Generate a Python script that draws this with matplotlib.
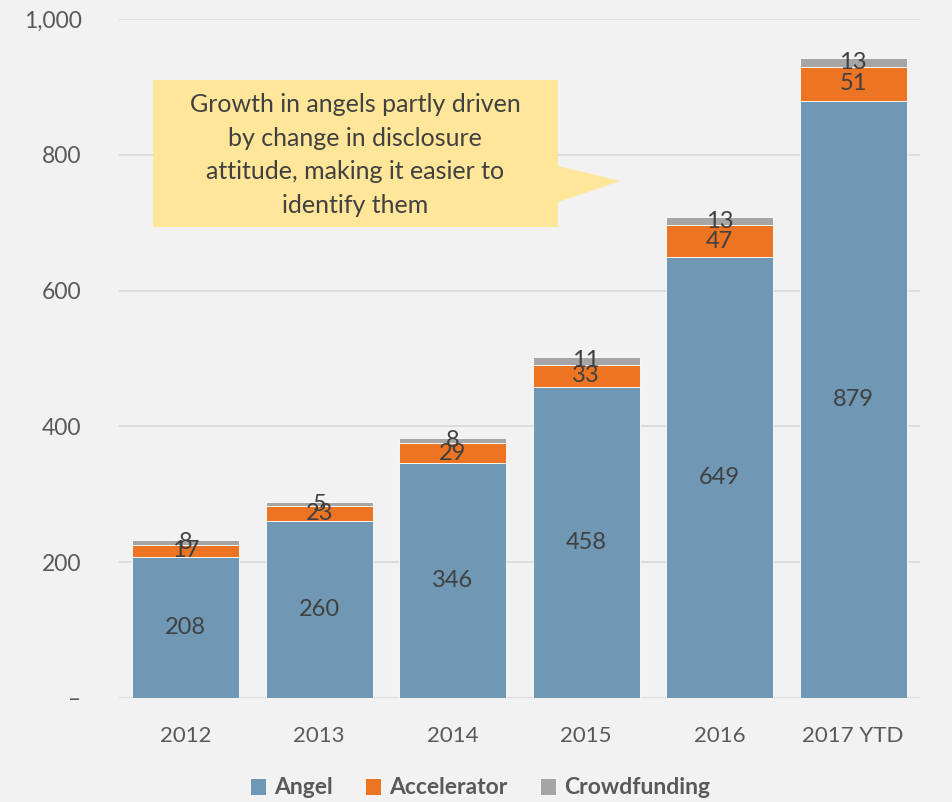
import matplotlib
matplotlib.use("Agg")
import matplotlib.pyplot as plt
from matplotlib.patches import Polygon
import numpy as np

categories = ["2012", "2013", "2014", "2015", "2016", "2017 YTD"]
angel = [208, 260, 346, 458, 649, 879]
accelerator = [17, 23, 29, 33, 47, 51]
crowdfunding = [8, 5, 8, 11, 13, 13]
series_names = ["Angel", "Accelerator", "Crowdfunding"]
colors = ["#7098B5", "#ED7422", "#A5A5A5"]
y_ticks = [0, 200, 400, 600, 800, 1000]
y_tick_labels = ["\u2013", "200", "400", "600", "800", "1,000"]
callout_text = ("Growth in angels partly driven\nby change in disclosure\n"
                "attitude, making it easier to\nidentify them")

plt.rcParams['font.family'] = ['Lato', 'DejaVu Sans']
BG = "#F2F2F2"
W, H = 953, 802
fig = plt.figure(figsize=(W / 100, H / 100), dpi=100, facecolor=BG)
ax = fig.add_axes([119 / W, 1 - 698 / H, (920 - 119) / W, (698 - 19) / H])
ax.set_facecolor(BG)

x = np.arange(len(categories))
bottom = np.zeros(len(categories))
for name, vals, col in zip(series_names, [angel, accelerator, crowdfunding], colors):
    vals = np.array(vals, dtype=float)
    ax.bar(x, vals, 0.8, bottom=bottom, color=col, label=name,
           edgecolor="white", linewidth=0.6, zorder=3)
    for xi, b, v in zip(x, bottom, vals):
        ax.text(xi, b + v / 2, f"{int(v)}", ha="center", va="center",
                fontsize=17, color="#404040", zorder=5)
    bottom += vals

ax.set_xlim(-0.5, len(categories) - 0.5)
ax.set_ylim(0, 1000)
ax.set_yticks(y_ticks)
ax.set_yticklabels(y_tick_labels)
ax.set_xticks(x)
ax.set_xticklabels(categories)
ax.tick_params(axis="y", length=0, pad=27, labelsize=16.5, labelcolor="#595959")
ax.tick_params(axis="x", length=0, pad=20, labelsize=16, labelcolor="#595959")
ax.grid(axis="y", color="#D9D9D9", linewidth=1.2, zorder=0)
for s in ax.spines.values():
    s.set_visible(False)

# Callout
def fp(px, py):
    return (px / W, 1 - py / H)

poly = Polygon([fp(153, 80), fp(558, 80), fp(558, 166), fp(620, 181),
                fp(558, 202), fp(558, 227), fp(153, 227)],
               closed=True, transform=fig.transFigure, facecolor="#FFE699",
               edgecolor="none", zorder=10)
fig.patches.append(poly)
fig.text(355 / W, 1 - 155 / H, callout_text, ha="center", va="center",
         fontsize=18, color="#404040", linespacing=1.55, zorder=11)

leg = fig.legend(loc="center", bbox_to_anchor=(480 / W, 1 - 788 / H), ncol=3,
                 frameon=False, handlelength=0.7, handleheight=0.7,
                 handletextpad=0.35, columnspacing=1.4,
                 prop={"size": 16.5, "weight": "bold"})
for t in leg.get_texts():
    t.set_color("#595959")

fig.savefig("out.png", dpi=100, facecolor=BG)
